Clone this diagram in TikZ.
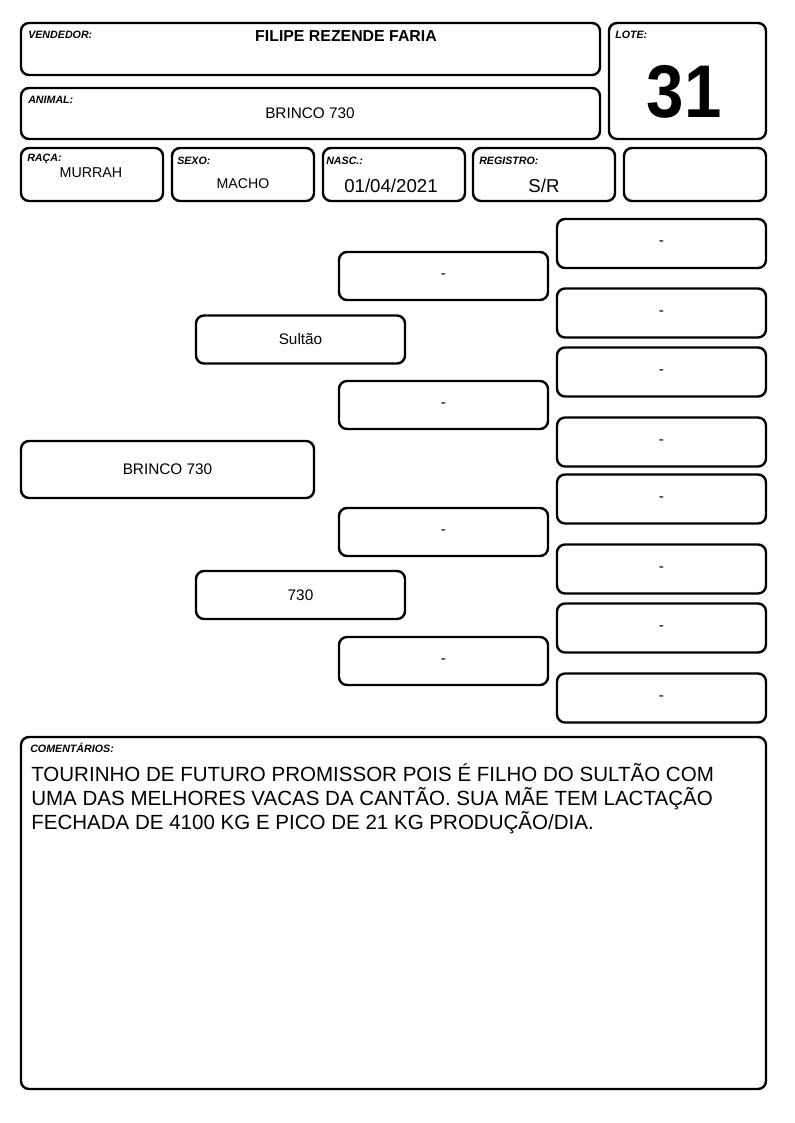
\documentclass[tikz,border=0pt]{standalone}
\usepackage{fontspec}
\setmainfont{Liberation Sans}
\usetikzlibrary{positioning}

\tikzset{
  caixa/.style={draw, line width=1.8pt, rounded corners=6pt},
  rotulo/.style={anchor=base west, inner sep=0pt, font=\fontsize{8}{9}\selectfont\bfseries\itshape},
  valor/.style={anchor=base, inner sep=0pt},
  ped/.style={caixa, minimum width=156.75pt, minimum height=36pt, inner sep=0pt, font=\fontsize{11.5}{13}\selectfont},
}

\begin{document}
\begin{tikzpicture}[x=0.75pt, y=-0.75pt]
\useasboundingbox (0,0) rectangle (794,1123);

% cabecalho
\draw[caixa] (21,23) rectangle (600,75);
\node[rotulo] (vendedorlbl) at (28,39) {VENDEDOR:};
\node[valor, font=\fontsize{11.9}{13}\selectfont\bfseries] (vendedor) at (346,42) {FILIPE REZENDE FARIA};

\draw[caixa] (21,88) rectangle (600,139);
\node[rotulo] (animallbl) at (28,104) {ANIMAL:};
\node[valor, font=\fontsize{11.5}{13}\selectfont] (animalval) at (310,119) {BRINCO 730};

\draw[caixa] (609,23) rectangle (766,139);
\node[rotulo] (lotelbl) at (615,39) {LOTE:};
\node[valor, font=\fontsize{56}{60}\selectfont\bfseries] (lote) at (684,118) {\scalebox{0.9}[1]{31}};

% segunda linha
\draw[caixa] (21,148) rectangle (163,201);
\node[rotulo] (racalbl) at (27,162) {RAÇA:};
\node[valor, font=\fontsize{10.7}{12}\selectfont] (raca) at (91,178) {MURRAH};

\draw[caixa] (172,148) rectangle (314,201);
\node[rotulo] (sexolbl) at (177,165) {SEXO:};
\node[valor, font=\fontsize{10.6}{12}\selectfont] (sexo) at (243,189) {MACHO};

\draw[caixa] (323,148) rectangle (465,201);
\node[rotulo] (nasclbl) at (326,165) {NASC.:};
\node[valor, font=\fontsize{14}{16}\selectfont] (nasc) at (391,193) {01/04/2021};

\draw[caixa] (473,148) rectangle (615,201);
\node[rotulo] (registrolbl) at (479,165) {REGISTRO:};
\node[valor, font=\fontsize{14}{16}\selectfont] (registro) at (544,193) {S/R};

\draw[caixa] (624,148) rectangle (766,201);

% genealogia
\node[ped, minimum width=219.75pt, minimum height=42.75pt] (filho) at (167.5,469.5) {BRINCO 730};

\node[ped] (pai) at (300.5,339.5) {Sultão};
\node[ped] (mae) at (300.5,595) {730};

\node[ped] (pp) at (443.5,276) {-};
\node[ped] (pm) at (443.5,405) {-};
\node[ped] (mp) at (443.5,532) {-};
\node[ped] (mm) at (443.5,661) {-};

\node[ped, minimum height=36.75pt] (ppp) at (661.5,243.5) {-};
\node[ped, minimum height=36.75pt] (ppm) at (661.5,313) {-};
\node[ped, minimum height=36.75pt] (pmp) at (661.5,372) {-};
\node[ped, minimum height=36.75pt] (pmm) at (661.5,442) {-};
\node[ped, minimum height=36.75pt] (mpp) at (661.5,499) {-};
\node[ped, minimum height=36.75pt] (mpm) at (661.5,569) {-};
\node[ped, minimum height=36.75pt] (mmp) at (661.5,628) {-};
\node[ped, minimum height=36.75pt] (mmm) at (661.5,698) {-};

% comentarios
\draw[caixa] (21,737) rectangle (766,1089);
\node[rotulo] (comentlbl) at (30,752) {COMENTÁRIOS:};
\node[valor, anchor=base west, font=\fontsize{15.4}{18}\selectfont] (coment1) at (31,781) {TOURINHO DE FUTURO PROMISSOR POIS É FILHO DO SULTÃO COM};
\node[valor, anchor=base west, font=\fontsize{15.4}{18}\selectfont] (coment2) at (31,805) {UMA DAS MELHORES VACAS DA CANTÃO. SUA MÃE TEM LACTAÇÃO};
\node[valor, anchor=base west, font=\fontsize{15.4}{18}\selectfont] (coment3) at (31,829) {FECHADA DE 4100 KG E PICO DE 21 KG PRODUÇÃO/DIA.};
\end{tikzpicture}
\end{document}
